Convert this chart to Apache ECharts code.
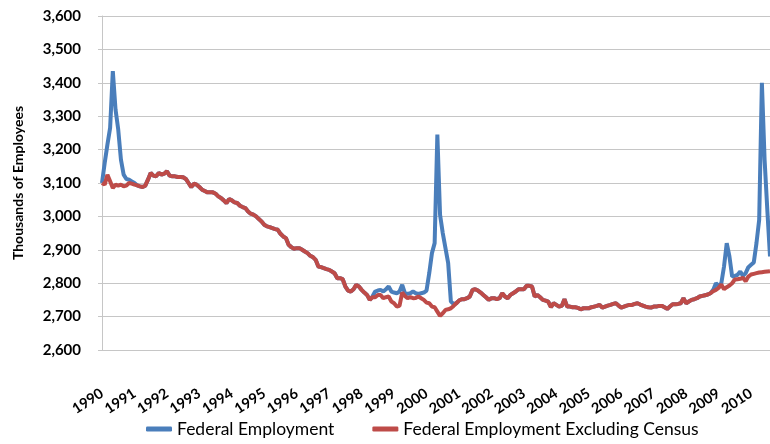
<!DOCTYPE html>
<html>
<head>
<meta charset="utf-8">
<script src="https://cdn.jsdelivr.net/npm/echarts@6/dist/echarts.min.js"></script>
<style>
  html,body{margin:0;padding:0;background:#fff;}
  #main{width:770px;height:444px;}
</style>
</head>
<body>
<div id="main"></div>
<script>
/* years shown on the axis, one label per January */
var years = ['1990','1991','1992','1993','1994','1995','1996','1997','1998','1999','2000',
             '2001','2002','2003','2004','2005','2006','2007','2008','2009','2010'];
var monthsIn2010 = 8; // series stops in Aug 2010

/* federal employment excluding census workers, monthly, thousands */
var exCensus = [
  3100,3095,3125,3105,3085,3095,3092,3095,3090,3092,3100,3098, //1990
  3095,3093,3090,3088,3092,3110,3130,3122,3120,3130,3125,3128, //1991
  3135,3122,3120,3120,3118,3118,3117,3112,3100,3088,3098,3095, //1992
  3088,3080,3076,3072,3072,3072,3068,3060,3055,3048,3040,3052, //1993
  3048,3042,3040,3032,3028,3025,3015,3008,3005,3000,2992,2985, //1994
  2975,2970,2968,2965,2962,2960,2948,2940,2935,2915,2908,2903, //1995
  2905,2905,2900,2895,2890,2882,2878,2870,2850,2848,2845,2842, //1996
  2840,2835,2830,2815,2815,2812,2790,2778,2775,2782,2795,2790, //1997
  2780,2772,2765,2750,2758,2758,2765,2765,2755,2758,2760,2745, //1998
  2740,2730,2732,2772,2762,2755,2758,2755,2756,2760,2755,2750, //1999
  2742,2740,2730,2728,2715,2702,2710,2720,2722,2725,2732,2740, //2000
  2748,2752,2752,2755,2760,2780,2782,2778,2772,2765,2758,2750, //2001
  2755,2755,2752,2755,2770,2760,2755,2765,2770,2775,2782,2782, //2002
  2782,2792,2792,2790,2760,2765,2758,2750,2748,2745,2728,2740, //2003
  2735,2730,2732,2752,2730,2730,2728,2728,2726,2722,2725,2725, //2004
  2725,2728,2730,2732,2735,2727,2730,2733,2735,2738,2740,2733, //2005
  2727,2730,2733,2735,2735,2738,2740,2736,2733,2730,2728,2727, //2006
  2730,2730,2732,2732,2728,2723,2730,2737,2737,2738,2740,2755, //2007
  2740,2745,2750,2752,2755,2760,2762,2764,2766,2770,2776,2780, //2008
  2786,2796,2782,2788,2793,2800,2811,2812,2813,2816,2806,2820, //2009
  2826,2828,2830,2832,2833,2834,2835,2836                      //2010
];

/* total federal employment during the census build-ups (other months equal exCensus) */
var census1990Start = 0;
var census1990 = [3100,3160,3215,3265,3435,3320,3260,3170,3125,3112,3110,3105,3100];
var census2000Start = 100;
var census2000 = [2760,2775,2778,2780,2775,2782,2790,2775,2772,2770,2775,2795,2770,2768,2770,
                  2775,2770,2768,2770,2772,2778,2830,2890,2920,3245,3005,2950,2905,2860,2745,2738];
var census2010Start = 226;
var census2010 = [2780,2800,2792,2800,2850,2920,2880,2820,2822,2825,2835,2822,2830,2848,
                  2855,2862,2920,2990,3400,3170,3020,2880];

var months = [];
for(var y=0;y<years.length;y++){
    var n = (y==years.length-1) ? monthsIn2010 : 12;
    for(var m=1;m<=n;m++){ months.push(years[y]+'-'+(m<10?'0'+m:m)); }
}

var federal = exCensus.slice();
function overlay(start,arr){ for(var i=0;i<arr.length;i++){ federal[start+i]=arr[i]; } }
overlay(census1990Start,census1990);
overlay(census2000Start,census2000);
overlay(census2010Start,census2010);

var font = 'Lato, "Open Sans", sans-serif';
var gridColor = '#c6c6c6';

var myChart = echarts.init(document.getElementById('main'), null, {renderer:'canvas'});
myChart.setOption({
    animation:false,
    grid:{left:102,right:0,top:16,bottom:94},
    color:['#4a7ebb','#be4b48'],
    legend:{
        left:141,bottom:1,
        itemWidth:26,itemHeight:5,itemGap:38,
        icon:'roundRect',
        textStyle:{fontFamily:font,fontSize:17.5,color:'#000'},
        data:['Federal Employment','Federal Employment Excluding Census']
    },
    xAxis:{
        type:'category',
        data:months,
        boundaryGap:false,
        axisLine:{show:true,lineStyle:{color:gridColor}},
        axisTick:{show:false},
        axisLabel:{
            interval:function(i){ return i%12===0; },
            formatter:function(v){ return v.substr(0,4); },
            rotate:33,
            margin:42,
            fontFamily:font,fontSize:14.5,fontWeight:'bold',color:'#000'
        },
        splitLine:{show:false}
    },
    yAxis:{
        type:'value',
        min:2600,max:3600,interval:100,
        name:'Thousands of Employees',
        nameLocation:'middle',
        nameGap:77,
        nameTextStyle:{fontFamily:font,fontSize:14,fontWeight:'bold',color:'#000'},
        axisLine:{show:true,lineStyle:{color:gridColor}},
        axisTick:{show:true,length:4,lineStyle:{color:gridColor}},
        axisLabel:{
            margin:21,
            formatter:function(v){ return v.toLocaleString('en-US'); },
            fontFamily:font,fontSize:15,fontWeight:'bold',color:'#000'
        },
        splitLine:{lineStyle:{color:gridColor,width:1}}
    },
    series:[
        {
            name:'Federal Employment',
            type:'line',
            data:federal,
            symbol:'none',
            lineStyle:{width:4},
            z:2
        },
        {
            name:'Federal Employment Excluding Census',
            type:'line',
            data:exCensus,
            symbol:'none',
            lineStyle:{width:4},
            z:3
        }
    ]
});
</script>
</body>
</html>
